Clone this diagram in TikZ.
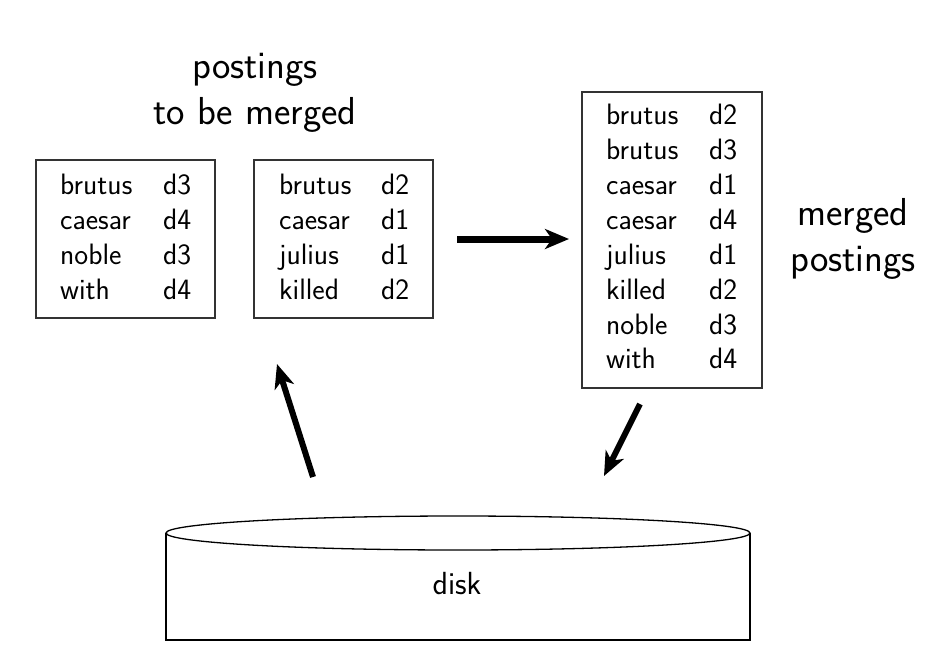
\documentclass[tikz,border=0pt]{standalone}
\usetikzlibrary{arrows.meta}
\begin{document}
\begin{tikzpicture}[x=1pt,y=-1pt,
  every node/.style={font=\sffamily\fontsize{29.5}{35}\selectfont, inner sep=0pt},
  word/.style={anchor=west, text height=0.7em, text depth=0.25em},
  listbox/.style={draw=black!80, line width=1.1pt, fill=none},
  title/.style={font=\sffamily\fontsize{39}{46}\selectfont, align=center},
  bigarrow/.style={line width=7pt, -{Stealth[length=24pt,width=20pt,inset=7pt]}}
]
\useasboundingbox (0,0) rectangle (948,654);
% boxes
\node[listbox, minimum width=179pt, minimum height=158pt] (b1) at (125.5,239) {};
\node[listbox, minimum width=179pt, minimum height=158pt] (b2) at (343.5,239) {};
\node[listbox, minimum width=180pt, minimum height=296pt] (b3) at (672,240) {};
% box 1
\node[word] (w11) at (60,192) {brutus};  \node[word] (d11) at (163,192) {d3};
\node[word] (w12) at (60,227) {caesar};  \node[word] (d12) at (163,227) {d4};
\node[word] (w13) at (60,262) {noble};   \node[word] (d13) at (163,262) {d3};
\node[word] (w14) at (60,297) {with};    \node[word] (d14) at (163,297) {d4};
% box 2
\node[word] (w21) at (279,192) {brutus};  \node[word] (d21) at (381,192) {d2};
\node[word] (w22) at (279,227) {caesar};  \node[word] (d22) at (381,227) {d1};
\node[word] (w23) at (279,262) {julius};  \node[word] (d23) at (381,262) {d1};
\node[word] (w24) at (279,297) {killed};  \node[word] (d24) at (381,297) {d2};
% box 3
\node[word] (w31) at (606,122) {brutus};  \node[word] (d31) at (709,122) {d2};
\node[word] (w32) at (606,157) {brutus};  \node[word] (d32) at (709,157) {d3};
\node[word] (w33) at (606,192) {caesar};  \node[word] (d33) at (709,192) {d1};
\node[word] (w34) at (606,227) {caesar};  \node[word] (d34) at (709,227) {d4};
\node[word] (w35) at (606,262) {julius};  \node[word] (d35) at (709,262) {d1};
\node[word] (w36) at (606,297) {killed};  \node[word] (d36) at (709,297) {d2};
\node[word] (w37) at (606,332) {noble};   \node[word] (d37) at (709,332) {d3};
\node[word] (w38) at (606,366) {with};    \node[word] (d38) at (709,366) {d4};
% titles
\node[title] (t1) at (255,93) {postings\\to be merged};
\node[title] (t2) at (853,239) {merged\\postings};
% disk
\draw[line width=1.3pt] (166,533) -- (166,640) -- (750,640) -- (750,533);
\draw[line width=1.3pt, fill=white] (458,533) ellipse [x radius=292, y radius=17];
\node[font=\sffamily\fontsize{32}{36}\selectfont] (disk) at (457,584) {disk};
% arrows
\coordinate (h1) at (457,239);
\coordinate (h2) at (569,239);
\coordinate (u1) at (313,477);
\coordinate (u2) at (277,364);
\coordinate (v1) at (640,404);
\coordinate (v2) at (604,476);
\draw[bigarrow] (h1) -- (h2);
\draw[bigarrow, line width=6pt] (u1) -- (u2);
\draw[bigarrow, line width=6pt] (v1) -- (v2);
\end{tikzpicture}
\end{document}
